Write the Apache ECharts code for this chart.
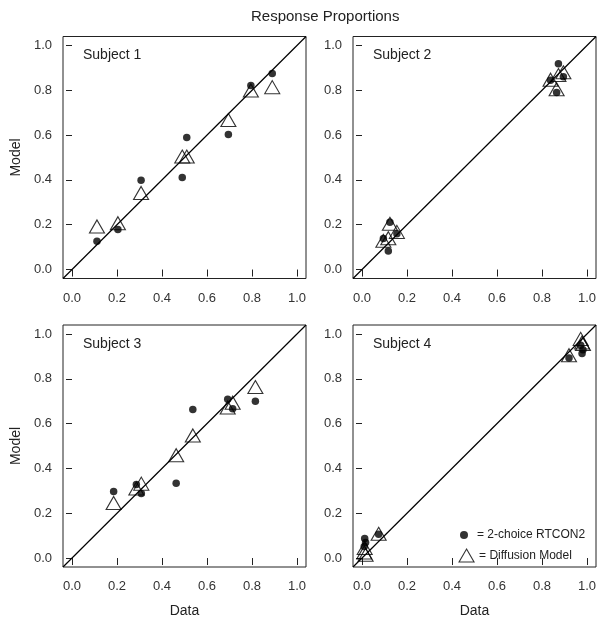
<!DOCTYPE html>
<html>
<head>
<meta charset="utf-8">
<script src="https://cdn.jsdelivr.net/npm/echarts@6/dist/echarts.min.js"></script>
<style>
  html, body { margin: 0; padding: 0; background: #fff; }
  #main { width: 606px; height: 626px; }
</style>
</head>
<body>
<div id="main"></div>
<script>
// observed proportions (Data) and model predictions per subject
var subjects = ["Subject 1", "Subject 2", "Subject 3", "Subject 4"];
var dataS1 = [0.111, 0.204, 0.307, 0.490, 0.510, 0.695, 0.795, 0.890];
var rtconS1 = [0.126, 0.179, 0.399, 0.411, 0.589, 0.603, 0.821, 0.875];
var diffS1 = [0.192, 0.207, 0.342, 0.504, 0.504, 0.667, 0.799, 0.814];

var dataS2 = [0.095, 0.117, 0.124, 0.155, 0.838, 0.865, 0.873, 0.895];
var rtconS2 = [0.138, 0.083, 0.211, 0.160, 0.845, 0.790, 0.918, 0.860];
var diffS2 = [0.128, 0.140, 0.204, 0.168, 0.847, 0.805, 0.868, 0.880];

var dataS3 = [0.185, 0.286, 0.308, 0.463, 0.537, 0.692, 0.714, 0.815];
var rtconS3 = [0.297, 0.328, 0.288, 0.334, 0.663, 0.709, 0.666, 0.700];
var diffS3 = [0.246, 0.310, 0.332, 0.459, 0.547, 0.672, 0.693, 0.763];

var dataS4 = [0.010, 0.012, 0.016, 0.074, 0.920, 0.972, 0.978, 0.982];
var rtconS4 = [0.052, 0.087, 0.069, 0.106, 0.893, 0.950, 0.913, 0.930];
var diffS4 = [0.025, 0.045, 0.015, 0.108, 0.905, 0.978, 0.962, 0.955];

var tickValues = [0, 0.2, 0.4, 0.6, 0.8, 1.0];
var axisMin = -0.04, axisMax = 1.04;

var allData = [dataS1, dataS2, dataS3, dataS4];
var allRtcon = [rtconS1, rtconS2, rtconS3, rtconS4];
var allDiff = [diffS1, diffS2, diffS3, diffS4];

var font = "Liberation Sans, Arial, sans-serif";
var gridPos = [
  { left: 63, top: 36.5 },
  { left: 353, top: 36.5 },
  { left: 63, top: 325 },
  { left: 353, top: 325 }
];

function pairs(xs, ys) {
  return xs.map(function (x, i) { return [x, ys[i]]; });
}

var grids = [], xAxes = [], yAxes = [], series = [], titles = [];

titles.push({
  text: "Response Proportions",
  left: 246, top: 4,
  textStyle: { fontSize: 15, fontWeight: "normal", color: "#222", fontFamily: font }
});

gridPos.forEach(function (g, i) {
  grids.push({
    left: g.left, top: g.top, width: 243, height: 242,
    show: true, borderColor: "#222", borderWidth: 1, backgroundColor: "#fff"
  });
  var axisCommon = {
    gridIndex: i, type: "value", min: axisMin, max: axisMax,
    splitLine: { show: false },
    axisLine: { show: false },
    nameTextStyle: { color: "#222", fontSize: 14, fontFamily: font }
  };
  var labelCommon = {
    color: "#333", fontSize: 13, fontFamily: font,
    customValues: tickValues,
    formatter: function (v) { return v.toFixed(1); }
  };
  xAxes.push(Object.assign({}, axisCommon, {
    name: i >= 2 ? "Data" : "", nameLocation: "middle", nameGap: 37,
    axisTick: { show: true, length: 7, lineStyle: { color: "#222" }, customValues: tickValues },
    axisLabel: Object.assign({ margin: 13 }, labelCommon)
  }));
  yAxes.push(Object.assign({}, axisCommon, {
    name: i % 2 === 0 ? "Model" : "", nameLocation: "middle", nameGap: 40,
    axisTick: { show: true, length: 6, lineStyle: { color: "#222" }, customValues: tickValues },
    axisLabel: Object.assign({ margin: 11 }, labelCommon)
  }));
  titles.push({
    text: subjects[i],
    left: g.left + 15, top: g.top + 7,
    textStyle: { fontSize: 14, fontWeight: "normal", color: "#222", fontFamily: font }
  });

  series.push({
    type: "line", xAxisIndex: i, yAxisIndex: i,
    data: [[axisMin, axisMin], [axisMax, axisMax]],
    symbol: "none", silent: true,
    lineStyle: { color: "#000", width: 1.2 },
    clip: true
  });
  series.push({
    name: "2-choice RTCON2", type: "scatter", xAxisIndex: i, yAxisIndex: i,
    data: pairs(allData[i], allRtcon[i]),
    symbol: "circle", symbolSize: 7.5,
    itemStyle: { color: "#000" }
  });
  series.push({
    name: "Diffusion Model", type: "scatter", xAxisIndex: i, yAxisIndex: i,
    data: pairs(allData[i], allDiff[i]),
    symbol: "triangle", symbolSize: [15, 13],
    itemStyle: { color: "rgba(0,0,0,0)", borderColor: "#000", borderWidth: 1.1 }
  });
});

var legendText = { fontSize: 12, color: "#222", fontFamily: font };

var myChart = echarts.init(document.getElementById("main"));
myChart.setOption({
  animation: false,
  title: titles,
  legend: [
    {
      data: [{ name: "2-choice RTCON2", icon: "circle" }],
      left: 455, top: 524, padding: 5,
      itemWidth: 8, itemHeight: 8,
      selectedMode: false,
      formatter: "= {name}",
      textStyle: Object.assign({ padding: [0, 0, 0, 4] }, legendText)
    },
    {
      data: [{ name: "Diffusion Model", icon: "triangle",
        itemStyle: { color: "rgba(0,0,0,0)", borderColor: "#000", borderWidth: 1.1 } }],
      left: 453.5, top: 543.5, padding: 5,
      itemWidth: 15, itemHeight: 13,
      selectedMode: false,
      formatter: "= {name}",
      textStyle: legendText
    }
  ],
  grid: grids,
  xAxis: xAxes,
  yAxis: yAxes,
  series: series
});
</script>
</body>
</html>
